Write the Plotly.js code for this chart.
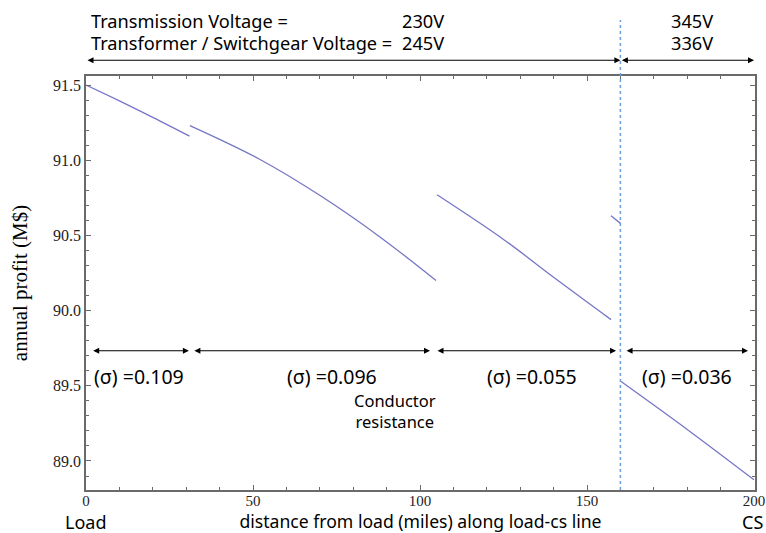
<!DOCTYPE html>
<html>
<head>
<meta charset="utf-8">
<script src="https://cdn.plot.ly/plotly-3.0.1.min.js"></script>
<style>html,body{margin:0;padding:0;background:#fff;}#chart{width:766px;height:533px;}</style>
</head>
<body>
<div id="chart"></div>
<script>
// ---- data ----
const seg1X = [0, 10, 20, 31];
const seg1Y = [91.50, 91.395, 91.285, 91.16];
const seg2X = [31.1, 52.1, 70.1, 88.0, 104.8];
const seg2Y = [91.23, 91.005, 90.765, 90.49, 90.20];
const seg3X = [105.1, 124.9, 139.8, 157.2];
const seg3Y = [90.77, 90.475, 90.225, 89.94];
const seg4X = [157.2, 160.0];
const seg4Y = [90.63, 90.58];
const seg5X = [160.1, 180, 200];
const seg5Y = [89.53, 89.21, 88.875];

const voltageBreak = 160;
const voltageRanges = [[0, 160], [160, 200]];
const transLabels = ["230V", "345V"];
const switchLabels = ["245V", "336V"];
const labelX = [100.9, 181.4];

const sigmaRanges = [[1.7, 30.8], [32.0, 103.0], [104.8, 158.7], [161.4, 198.2]];
const sigmaLabels = ["(σ) =0.109", "(σ) =0.096", "(σ) =0.055", "(σ) =0.036"];
const sigmaLabelX = [15.9, 73.6, 133.6, 179.9];
const sigmaArrowY = 89.733;
const sigmaTextY = 89.56;

const xTicks = [0, 50, 100, 150, 200];
const yTicks = [89.0, 89.5, 90.0, 90.5, 91.0, 91.5];

// ---- drawing ----
const lineColor = '#7676c6';
const segs = [[seg1X, seg1Y], [seg2X, seg2Y], [seg3X, seg3Y], [seg4X, seg4Y], [seg5X, seg5Y]];
const traces = segs.map(s => ({
  x: s[0], y: s[1], type: 'scatter', mode: 'lines',
  line: {color: lineColor, width: 1.3, shape: 'spline', smoothing: 1.0},
  hoverinfo: 'skip', showlegend: false
}));

const sans = 'Noto Sans, Open Sans, sans-serif';
const serif = 'Liberation Serif, DejaVu Serif, serif';
const ann = [];

// top arrows
voltageRanges.forEach(r => {
  ann.push({xref: 'x', yref: 'paper', x: r[1], y: 1.038, axref: 'x', ayref: 'pixel', ax: r[0], ay: 0,
    text: '', showarrow: true, arrowside: 'end+start', arrowhead: 2, arrowsize: 1, arrowwidth: 1.2, arrowcolor: '#000'});
});
const topFont = {family: sans, size: 18.2, color: '#000'};
ann.push({xref: 'paper', yref: 'paper', x: 0.004, y: 1.133, xanchor: 'left', yanchor: 'middle', showarrow: false,
  text: 'Transmission Voltage =', font: topFont});
ann.push({xref: 'paper', yref: 'paper', x: 0.004, y: 1.080, xanchor: 'left', yanchor: 'middle', showarrow: false,
  text: 'Transformer / Switchgear Voltage =', font: topFont});
transLabels.forEach((t, i) => ann.push({xref: 'x', yref: 'paper', x: labelX[i], y: 1.133, yanchor: 'middle', showarrow: false,
  text: t, font: topFont}));
switchLabels.forEach((t, i) => ann.push({xref: 'x', yref: 'paper', x: labelX[i], y: 1.080, yanchor: 'middle', showarrow: false,
  text: t, font: topFont}));

// sigma arrows
sigmaRanges.forEach(r => {
  ann.push({xref: 'x', yref: 'y', x: r[1], y: sigmaArrowY, axref: 'x', ayref: 'y', ax: r[0], ay: sigmaArrowY,
    text: '', showarrow: true, arrowside: 'end+start', arrowhead: 2, arrowsize: 1, arrowwidth: 1.2, arrowcolor: '#000'});
});
sigmaLabels.forEach((t, i) => ann.push({xref: 'x', yref: 'y', x: sigmaLabelX[i], y: sigmaTextY, yanchor: 'middle', showarrow: false,
  text: t, font: {family: sans, size: 19.5, color: '#000'}}));
ann.push({xref: 'x', yref: 'y', x: 92.5, y: 89.335, yanchor: 'middle', showarrow: false,
  text: 'Conductor<br>resistance', font: {family: sans, size: 16.5, color: '#000'}});

ann.push({xref: 'x', yref: 'paper', x: 0, y: -0.078, yanchor: 'middle', showarrow: false, text: 'Load', font: {family: sans, size: 18, color: '#000'}});
ann.push({xref: 'x', yref: 'paper', x: 199.5, y: -0.078, yanchor: 'middle', showarrow: false, text: 'CS', font: {family: sans, size: 18, color: '#000'}});

const frame = '#6a6a6a';
const layout = {
  width: 766, height: 533,
  margin: {l: 86, r: 11, t: 76, b: 43},
  paper_bgcolor: '#fff', plot_bgcolor: '#fff',
  showlegend: false,
  xaxis: {
    range: [0, 200.3], tickvals: xTicks, ticktext: xTicks.map(String),
    ticks: 'inside', ticklen: 5, tickcolor: frame, tickwidth: 1,
    minor: {dtick: 10, tick0: 0, ticks: 'inside', ticklen: 3, tickcolor: frame},
    showline: true, linecolor: frame, linewidth: 1.8, mirror: 'allticks',
    showgrid: false, zeroline: false,
    tickfont: {family: serif, size: 15, color: '#222'}, ticklabelstandoff: -4,
    title: {text: 'distance from load (miles) along load-cs line', font: {family: sans, size: 17.6, color: '#000'}, standoff: 0},
    automargin: false
  },
  yaxis: {
    range: [88.807, 91.56], tickvals: yTicks, ticktext: yTicks.map(v => v.toFixed(1)),
    ticks: 'inside', ticklen: 5, tickcolor: frame, tickwidth: 1,
    minor: {dtick: 0.1, tick0: 89.0, ticks: 'inside', ticklen: 3, tickcolor: frame},
    showline: true, linecolor: frame, linewidth: 1.8, mirror: 'allticks',
    showgrid: false, zeroline: false,
    tickfont: {family: serif, size: 16, color: '#222'},
    title: {text: 'annual profit (M$)', font: {family: serif, size: 21, color: '#000'}, standoff: 20},
    automargin: false
  },
  shapes: [{type: 'line', xref: 'x', yref: 'paper', x0: voltageBreak, x1: voltageBreak, y0: 0, y1: 1.135,
    line: {color: '#6a9fd8', width: 1.5, dash: 'dot'}}],
  annotations: ann
};

Plotly.newPlot('chart', traces, layout, {staticPlot: true, displayModeBar: false});
</script>
</body>
</html>
